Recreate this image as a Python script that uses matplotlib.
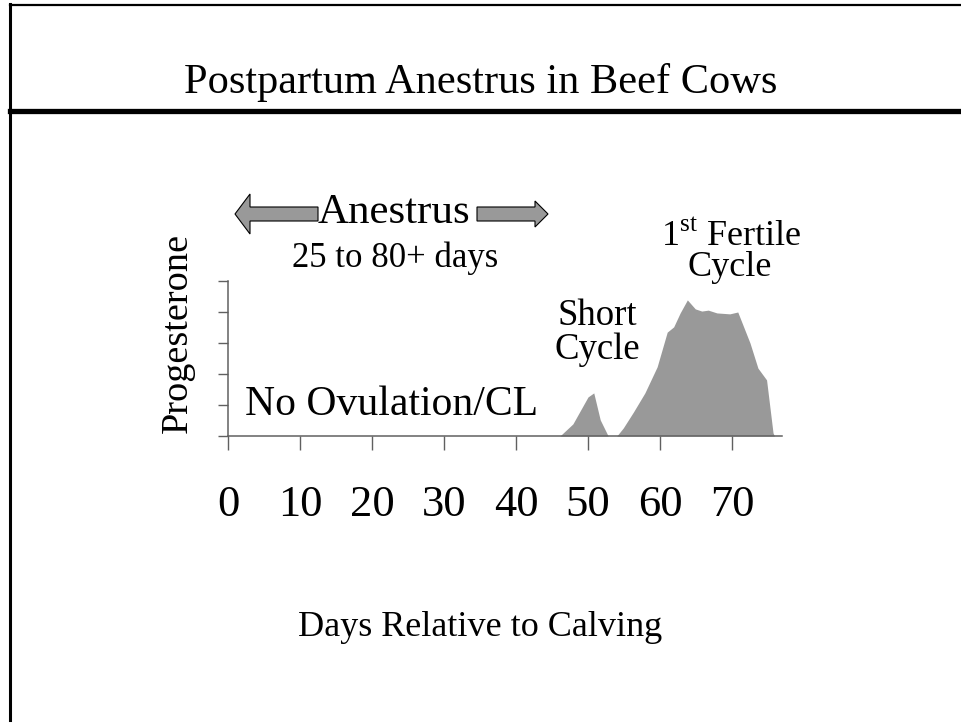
"""Postpartum anestrus in beef cows: progesterone profile after calving."""
import matplotlib
matplotlib.use("Agg")
import matplotlib.pyplot as plt
from matplotlib.patches import FancyArrow
from matplotlib.lines import Line2D
from matplotlib.transforms import IdentityTransform

plt.rcParams["font.family"] = ["Liberation Serif", "DejaVu Serif"]
plt.rcParams["mathtext.fontset"] = "custom"
plt.rcParams["mathtext.rm"] = "Liberation Serif"

W, H, DPI = 961, 723, 100

# days relative to calving vs progesterone (arbitrary units, ticks = 1)
short_days = [46.1, 47.9, 50.0, 50.8, 51.7, 52.8]
short_prog = [0.0, 0.39, 1.26, 1.39, 0.52, 0.0]
fertile_days = [54.0, 54.9, 56.3, 57.9, 59.6, 61.0, 61.9, 62.8, 63.8, 64.9,
                65.8, 66.7, 67.9, 69.7, 70.8, 72.5, 73.6, 74.8, 75.7, 75.9]
fertile_prog = [0.0, 0.26, 0.77, 1.39, 2.23, 3.35, 3.52, 3.97, 4.39, 4.10,
                4.03, 4.06, 3.97, 3.94, 4.00, 3.00, 2.19, 1.81, 0.10, 0.0]
x_ticks = [0, 10, 20, 30, 40, 50, 60, 70]
y_ticks = [0, 1, 2, 3, 4, 5]

FILL = "#999999"
AXIS = "#606060"


def fx(x, y):
    """image pixel (top-left origin) -> figure fraction"""
    return x / W, 1 - y / H


fig = plt.figure(figsize=(W / DPI, H / DPI), dpi=DPI)

# slide frame
pix = IdentityTransform()
for xs, ys, lw in [((10, 961), (H - 5, H - 5), 1.6),
                   ((10, 10), (H - 4, 3), 2.2),
                   ((10, 961), (H - 111, H - 111), 3.8)]:
    fig.add_artist(Line2D(xs, ys, color="black", lw=lw, transform=pix))

fig.text(*fx(481, 82), "Postpartum Anestrus in Beef Cows", fontsize=30.5,
         ha="center", va="center")

# axes placed in pixel units
x0, x1, ytop, ybase = 228, 782, 281, 436
ax = fig.add_axes([x0 / W, 1 - ybase / H, (x1 - x0) / W, (ybase - ytop) / H])
ax.fill_between(short_days, short_prog, color=FILL, lw=0)
ax.fill_between(fertile_days, fertile_prog, color=FILL, lw=0)
ax.set_xlim(0, (x1 - x0) / 7.2)
ax.set_ylim(0, 5)
ax.set_xticks(x_ticks)
ax.set_yticks(y_ticks)
ax.set_yticklabels([])
ax.tick_params(axis="y", direction="out", length=7.2, width=1.0, color=AXIS)
ax.tick_params(axis="x", direction="out", length=10, width=1.0, color=AXIS,
               labelsize=32, pad=25.5)
for s in ["top", "right"]:
    ax.spines[s].set_visible(False)
for s in ["left", "bottom"]:
    ax.spines[s].set_color(AXIS)
    ax.spines[s].set_linewidth(1.1)
ax.patch.set_alpha(0)

# annotations
fig.text(*fx(178, 333), "Progesterone", fontsize=27.5, rotation=90,
         ha="center", va="center")
fig.text(*fx(392, 405), "No Ovulation/CL", fontsize=30, ha="center", va="center")
fig.text(*fx(394, 213), "Anestrus", fontsize=31, ha="center", va="center")
fig.text(*fx(395, 258), "25 to 80+ days", fontsize=25, ha="center", va="center")
fig.text(*fx(597, 316), "Short", fontsize=26.5, ha="center", va="center")
fig.text(*fx(597, 350), "Cycle", fontsize=26.5, ha="center", va="center")
fig.text(*fx(731, 238), r"1$^{\mathrm{st}}$ Fertile", fontsize=26,
         ha="center", va="center")
fig.text(*fx(730, 268), "Cycle", fontsize=26, ha="center", va="center")
fig.text(*fx(480, 628), "Days Relative to Calving", fontsize=26,
         ha="center", va="center")

# double arrow around "Anestrus"
fig.add_artist(FancyArrow(318, H - 214, -(318 - 235), 0, width=14,
                          head_width=40, head_length=15,
                          length_includes_head=True, fc=FILL, ec="black",
                          lw=0.8, transform=pix))
fig.add_artist(FancyArrow(477, H - 214, 548 - 477, 0, width=14,
                          head_width=26, head_length=13,
                          length_includes_head=True, fc=FILL, ec="black",
                          lw=0.8, transform=pix))

fig.savefig("out.png", dpi=DPI)
